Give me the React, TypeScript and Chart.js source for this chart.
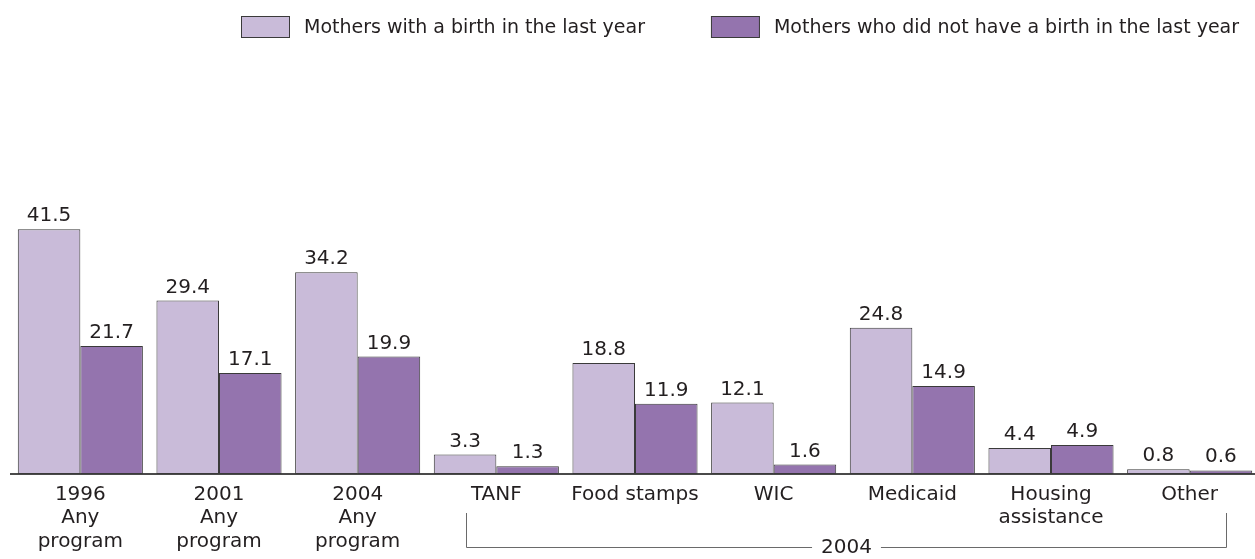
import React, { useEffect, useRef } from 'react';
import { Chart, registerables } from 'chart.js';

Chart.register(...registerables);

const categories: string[][] = [
  ['1996', 'Any', 'program'],
  ['2001', 'Any', 'program'],
  ['2004', 'Any', 'program'],
  ['TANF'],
  ['Food stamps'],
  ['WIC'],
  ['Medicaid'],
  ['Housing', 'assistance'],
  ['Other'],
];
const seriesNames = [
  'Mothers with a birth in the last year',
  'Mothers who did not have a birth in the last year',
];
const withBirth = [41.5, 29.4, 34.2, 3.3, 18.8, 12.1, 24.8, 4.4, 0.8];
const withoutBirth = [21.7, 17.1, 19.9, 1.3, 11.9, 1.6, 14.9, 4.9, 0.6];
const groupLabel = '2004';
const groupFirstIndex = 3;
const groupLastIndex = 8;

const COLORS = ['#c9bbd9', '#9474ae'];
const BORDER = '#3a3a3a';
const TEXT = '#231f20';
const FONT = '"DejaVu Sans", sans-serif';

const valueLabels = {
  id: 'valueLabels',
  afterDatasetsDraw(chart: any) {
    const ctx = chart.ctx;
    ctx.save();
    ctx.font = `20px ${FONT}`;
    ctx.fillStyle = TEXT;
    ctx.textAlign = 'center';
    ctx.textBaseline = 'alphabetic';
    chart.data.datasets.forEach((ds: any, i: number) => {
      const meta = chart.getDatasetMeta(i);
      meta.data.forEach((bar: any, j: number) => {
        ctx.fillText(Number(ds.data[j]).toFixed(1), bar.x, bar.y - 8);
      });
    });
    ctx.restore();
  },
};

const customLegend = {
  id: 'customLegend',
  afterDraw(chart: any) {
    const ctx = chart.ctx;
    ctx.save();
    ctx.font = `19px ${FONT}`;
    const boxW = 49;
    const boxH = 22;
    const textGap = 14;
    const itemGap = 66;
    const widths = chart.data.datasets.map((ds: any) => ctx.measureText(ds.label).width);
    const total = widths.reduce((a: number, w: number) => a + boxW + textGap + w, 0) + itemGap * (widths.length - 1);
    let x = Math.round(chart.chartArea.right - 20 - total);
    const top = 16;
    chart.data.datasets.forEach((ds: any, i: number) => {
      ctx.fillStyle = ds.backgroundColor;
      ctx.fillRect(x + 0.5, top + 0.5, boxW - 1, boxH - 1);
      ctx.strokeStyle = BORDER;
      ctx.lineWidth = 1;
      ctx.strokeRect(x + 0.5, top + 0.5, boxW - 1, boxH - 1);
      ctx.fillStyle = TEXT;
      ctx.textAlign = 'left';
      ctx.textBaseline = 'middle';
      ctx.fillText(ds.label, x + boxW + textGap, top + boxH / 2 + 1);
      x += boxW + textGap + widths[i] + itemGap;
    });
    ctx.restore();
  },
};

const groupBracket = {
  id: 'groupBracket',
  afterDraw(chart: any) {
    const ctx = chart.ctx;
    const xs = chart.scales.x;
    const cat = xs.getPixelForValue(1) - xs.getPixelForValue(0);
    const left = Math.round(xs.getPixelForValue(groupFirstIndex) - 0.22 * cat) + 0.5;
    const right = Math.round(xs.getPixelForValue(groupLastIndex) + 0.26 * cat) + 0.5;
    const bottom = chart.chartArea.bottom;
    const yTop = bottom + 39;
    const yLine = Math.round(bottom + 73) + 0.5;
    const mid = (left + right) / 2;
    ctx.save();
    ctx.font = `20px ${FONT}`;
    const tw = ctx.measureText(groupLabel).width;
    ctx.strokeStyle = '#6a6a6a';
    ctx.lineWidth = 1;
    ctx.beginPath();
    ctx.moveTo(left, yTop);
    ctx.lineTo(left, yLine);
    ctx.lineTo(mid - tw / 2 - 9, yLine);
    ctx.moveTo(mid + tw / 2 + 9, yLine);
    ctx.lineTo(right, yLine);
    ctx.lineTo(right, yTop);
    ctx.stroke();
    ctx.fillStyle = TEXT;
    ctx.textAlign = 'center';
    ctx.textBaseline = 'middle';
    ctx.fillText(groupLabel, mid, yLine);
    ctx.restore();
  },
};

export default function App() {
  const ref = useRef<HTMLCanvasElement>(null);

  useEffect(() => {
    if (!ref.current) return;
    const chart = new Chart(ref.current, {
      type: 'bar',
      data: {
        labels: categories,
        datasets: [
          {
            label: seriesNames[0],
            data: withBirth,
            backgroundColor: COLORS[0],
            borderColor: BORDER,
            borderWidth: 1,
            borderSkipped: false,
          },
          {
            label: seriesNames[1],
            data: withoutBirth,
            backgroundColor: COLORS[1],
            borderColor: BORDER,
            borderWidth: 1,
            borderSkipped: false,
          },
        ],
      },
      options: {
        animation: false,
        responsive: true,
        maintainAspectRatio: false,
        layout: { padding: { left: 11, right: 3, top: 179, bottom: 0 } },
        datasets: { bar: { barPercentage: 1, categoryPercentage: 0.902 } },
        plugins: {
          legend: { display: false },
          tooltip: { enabled: false },
        },
        scales: {
          x: {
            grid: { display: false, drawTicks: false, tickLength: 0 },
            border: { display: true, color: '#4a4a4a', width: 2 },
            ticks: {
              font: { family: FONT, size: 20, lineHeight: 1.175 },
              color: TEXT,
              padding: 9,
              maxRotation: 0,
              autoSkip: false,
            },
            afterFit: (s: any) => {
              s.height = 85;
            },
          },
          y: { display: false, min: 0, max: 50 },
        },
      },
      plugins: [valueLabels, customLegend, groupBracket],
    });
    return () => chart.destroy();
  }, []);

  return (
    <div style={{ position: 'fixed', left: 0, top: 0, width: '100vw', height: '100vh', overflow: 'hidden', background: '#fff' }}>
      <div style={{ position: 'relative', width: 1262, height: 559 }}>
        <canvas ref={ref} />
      </div>
    </div>
  );
}
